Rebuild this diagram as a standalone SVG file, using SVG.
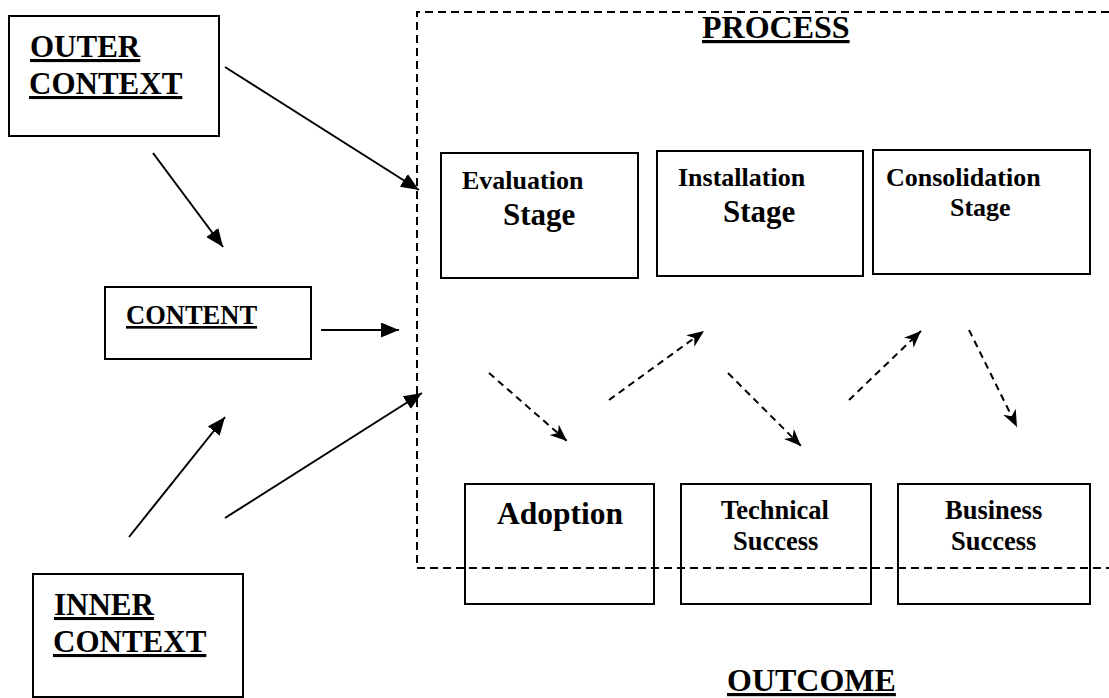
<svg xmlns="http://www.w3.org/2000/svg" width="1109" height="698" viewBox="0 0 1109 698">
<style>
.box{fill:none;stroke:#000;stroke-width:2}
.t{font-family:"Liberation Serif","Times New Roman",serif;font-weight:bold;fill:#000}
.u{text-decoration:underline}
.solid{stroke:#000;stroke-width:2;fill:none;marker-end:url(#ah)}
.dash{stroke:#000;stroke-width:2;fill:none;stroke-dasharray:7,5;marker-end:url(#ahd)}
.frame{stroke:#000;stroke-width:2;fill:none;stroke-dasharray:8,5}
</style>
<defs>
<marker id="ah" markerUnits="userSpaceOnUse" markerWidth="20" markerHeight="16" refX="18" refY="7.5" orient="auto">
<path d="M0,0 L18,7.5 L0,15 z" fill="#000"/>
</marker>
<marker id="ahd" markerUnits="userSpaceOnUse" markerWidth="18" markerHeight="16" refX="17" refY="7" orient="auto">
<path d="M0,0 L17,7 L0,14 L5,7 z" fill="#000"/>
</marker>
</defs>
<g id="process-frame">
<path class="frame" d="M1109,12 L417,12 L417,568 L1109,568"/>
<text class="t u" x="702" y="38" font-size="32">PROCESS</text>
</g>
<g id="outer-context">
<rect class="box" x="9" y="16" width="210" height="120"/>
<text class="t u" x="30" y="57" font-size="31">OUTER</text>
<text class="t u" x="29" y="94" font-size="31">CONTEXT</text>
</g>
<g id="content">
<rect class="box" x="105" y="287" width="206" height="72"/>
<text class="t u" x="126" y="324" font-size="26.5">CONTENT</text>
</g>
<g id="inner-context">
<rect class="box" x="33" y="574" width="210" height="123"/>
<text class="t u" x="54" y="615" font-size="31">INNER</text>
<text class="t u" x="53" y="652" font-size="31">CONTEXT</text>
</g>
<g id="evaluation-stage">
<rect class="box" x="441" y="153" width="197" height="125"/>
<text class="t" x="462" y="189" font-size="26">Evaluation</text>
<text class="t" x="503" y="225" font-size="31">Stage</text>
</g>
<g id="installation-stage">
<rect class="box" x="657" y="151" width="206" height="125"/>
<text class="t" x="678" y="186" font-size="26">Installation</text>
<text class="t" x="723" y="222" font-size="31">Stage</text>
</g>
<g id="consolidation-stage">
<rect class="box" x="873" y="150" width="217" height="124"/>
<text class="t" x="886" y="186" font-size="26">Consolidation</text>
<text class="t" x="950" y="216" font-size="26">Stage</text>
</g>
<g id="adoption">
<rect class="box" x="465" y="484" width="189" height="120"/>
<text class="t" x="497" y="524" font-size="31.5">Adoption</text>
</g>
<g id="technical-success">
<rect class="box" x="681" y="484" width="190" height="120"/>
<text class="t" x="721" y="519" font-size="26.5">Technical</text>
<text class="t" x="733" y="550" font-size="26.5">Success</text>
</g>
<g id="business-success">
<rect class="box" x="898" y="484" width="192" height="120"/>
<text class="t" x="945" y="519" font-size="26.5">Business</text>
<text class="t" x="951" y="550" font-size="26.5">Success</text>
</g>
<g id="outcome">
<text class="t u" x="727" y="691" font-size="32">OUTCOME</text>
</g>
<g id="connectors">
<line class="solid" x1="225" y1="67" x2="419" y2="190"/>
<line class="solid" x1="153" y1="153" x2="223" y2="247"/>
<line class="solid" x1="321" y1="330" x2="399" y2="330"/>
<line class="solid" x1="129" y1="537" x2="225" y2="417"/>
<line class="solid" x1="225" y1="518" x2="422" y2="393"/>
<line class="dash" x1="489" y1="373" x2="567" y2="441"/>
<line class="dash" x1="609" y1="400" x2="704" y2="331"/>
<line class="dash" x1="728" y1="373" x2="801" y2="446"/>
<line class="dash" x1="849" y1="400" x2="921" y2="331"/>
<line class="dash" x1="969" y1="330" x2="1017" y2="427"/>
</g>
</svg>
